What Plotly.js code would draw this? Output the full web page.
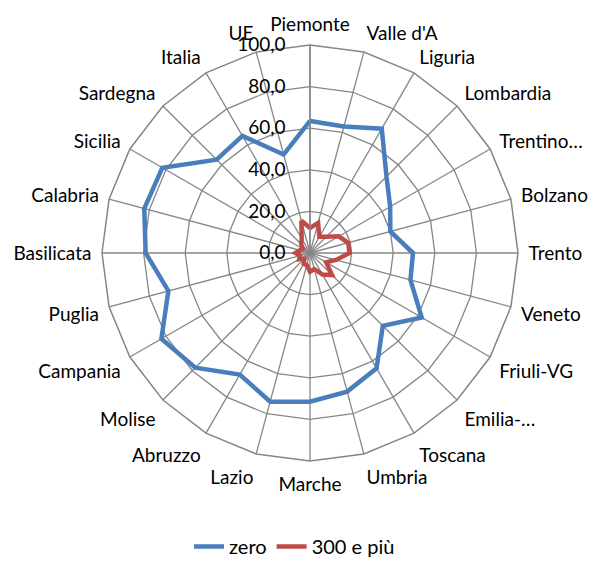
<!DOCTYPE html>
<html><head><meta charset="utf-8">
<script src="https://cdn.plot.ly/plotly-3.0.1.min.js"></script>
<style>html,body{margin:0;padding:0;background:#fff}#c{width:589px;height:566px}</style>
</head><body><div id="c"></div>
<script>
var categories = ["Piemonte","Valle d'A","Liguria","Lombardia","Trentino…","Bolzano","Trento","Veneto","Friuli-VG","Emilia-…","Toscana","Umbria","Marche","Lazio","Abruzzo","Molise","Campania","Puglia","Basilicata","Calabria","Sicilia","Sardegna","Italia","UE"];
var zero = [63.5,63,69,52,44.5,40,49.5,50,62,49.5,64,69,71.5,74,67.5,78,82.5,70.5,79,82.5,82,63.5,65,49];
var piu300 = [12,15,9,11,16,19,19,13,9,15,12,8,9,6,6,4,6,5,7,5,4,6,8,16];
var radialTickVals = [0,20,40,60,80,100];
var radialTickText = ["0,0","20,0","40,0","60,0","80,0","100,0"];

function closed(a){ return a.concat([a[0]]); }
var F = "Lato, 'Open Sans', sans-serif";
var FS = 19;
var grid = "#868686";
var data = [
 {type:"scatterpolar", mode:"lines", name:"zero", r:closed(zero), theta:closed(categories),
  line:{color:"#4A7EBB", width:4.5}},
 {type:"scatterpolar", mode:"lines", name:"300 e più", r:closed(piu300), theta:closed(categories),
  line:{color:"#BE4B48", width:4.5}}
];
var layout = {
 width:589, height:566, margin:{l:0,r:0,t:0,b:0},
 paper_bgcolor:"#fff", font:{family:F, size:FS, color:"#000"},
 showlegend:true,
 legend:{orientation:"h", x:0.5, xanchor:"center", y:0, yanchor:"bottom", font:{family:F,size:20,color:"#000"}},
 polar:{
  domain:{x:[(310-208)/589,(310+208)/589], y:[(313-208)/566,(313+208)/566]},
  gridshape:"linear", bgcolor:"#fff",
  angularaxis:{direction:"clockwise", rotation:90, type:"category",
    showline:true, linecolor:grid, linewidth:1.5, gridcolor:grid, gridwidth:1.3,
    ticks:"outside", ticklen:6, tickcolor:"rgba(0,0,0,0)", tickfont:{family:F,size:FS,color:"#000"}},
  radialaxis:{range:[0,100], angle:90, side:"counterclockwise", tickangle:90,
    tickvals:radialTickVals, ticktext:radialTickText, showline:true, linecolor:grid, linewidth:1.5,
    gridcolor:grid, gridwidth:1.3, ticks:"outside", ticklen:17, tickcolor:"rgba(0,0,0,0)",
    tickfont:{family:F,size:FS,color:"#000"}}
 }
};
Plotly.newPlot("c", data, layout, {staticPlot:true});
</script></body></html>
